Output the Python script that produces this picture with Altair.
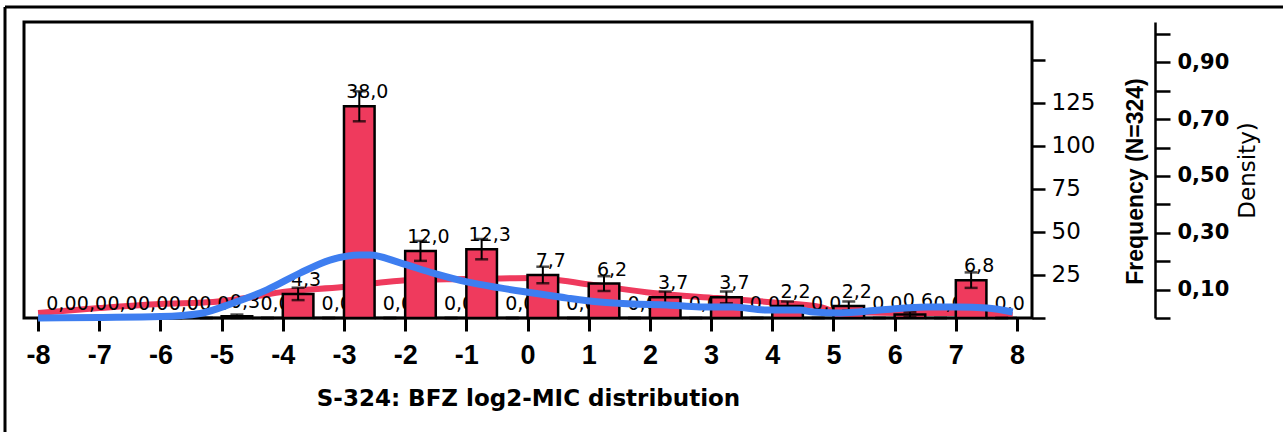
import altair as alt
import pandas as pd

# ---- data ----
bin_start = [-8.0, -7.5, -7.0, -6.5, -6.0, -5.5, -5.0, -4.5, -4.0, -3.5, -3.0, -2.5,
             -2.0, -1.5, -1.0, -0.5, 0.0, 0.5, 1.0, 1.5, 2.0, 2.5, 3.0, 3.5,
             4.0, 4.5, 5.0, 5.5, 6.0, 6.5, 7.0, 7.5]
counts = [0, 0, 0, 0, 0, 0, 1, 0, 14, 0, 123, 0, 39, 0, 40, 0,
          25, 0, 20, 0, 12, 0, 12, 0, 7, 0, 7, 0, 2, 0, 22, 0]
pct_labels = ["0,0", "0,0", "0,0", "0,0", "0,0", "0,0", "0,3", "0,0", "4,3", "0,0",
              "38,0", "0,0", "12,0", "0,0", "12,3", "0,0", "7,7", "0,0", "6,2", "0,0",
              "3,7", "0,0", "3,7", "0,0", "2,2", "0,0", "2,2", "0,0", "0,6", "0,0",
              "6,8", "0,0"]
errors = [0, 0, 0, 0, 0, 0, 1.0, 0, 3.6, 0, 8.7, 0, 5.8, 0, 5.9, 0,
          4.8, 0, 4.3, 0, 3.4, 0, 3.4, 0, 2.6, 0, 2.6, 0, 1.4, 0, 4.5, 0]

red_x = [-8.0, -7.0, -6.0, -5.14, -4.49, -4.0, -3.02, -2.46, -1.92, -0.99, 0.09,
         1.07, 2.05, 3.1, 4.13, 4.78, 5.03, 6.04, 7.02, 7.93]
red_d = [0.018, 0.035, 0.049, 0.056, 0.074, 0.092, 0.109, 0.123, 0.134, 0.137, 0.141,
         0.116, 0.088, 0.070, 0.053, 0.039, 0.024, 0.018, 0.018, 0.011]

blue_x = [-8.0, -7.0, -6.0, -5.35, -4.81, -4.26, -3.72, -3.23, -2.74, -2.57, -2.08,
          -1.54, -0.99, -0.45, 0.09, 0.65, 1.18, 1.72, 2.28, 2.82, 3.36, 3.91, 4.45,
          4.67, 5.11, 5.76, 6.53, 7.02, 7.51, 7.93]
blue_d = [0.0, 0.002, 0.005, 0.016, 0.053, 0.099, 0.158, 0.204, 0.222, 0.222, 0.194,
          0.158, 0.127, 0.106, 0.088, 0.070, 0.056, 0.049, 0.046, 0.039, 0.039, 0.028, 0.028,
          0.021, 0.018, 0.028, 0.039, 0.039, 0.035, 0.021]

x_ticks = list(range(-8, 9))
freq_ticks = [0, 25, 50, 75, 100, 125, 150]
dens_ticks = [0.0, 0.1, 0.2, 0.3, 0.4, 0.5, 0.6, 0.7, 0.8, 0.9, 1.0]

RED = "#EF3A5D"
BLUE = "#3E7EF0"

bars = pd.DataFrame({"start": bin_start, "count": counts, "label": pct_labels, "err": errors})
bars["end"] = bars["start"] + 0.5
bars["mid"] = bars["start"] + 0.25
bars["lo"] = bars["count"] - bars["err"]
bars["hi"] = bars["count"] + bars["err"]

red = pd.DataFrame({"v": red_x, "d": red_d})
blue = pd.DataFrame({"v": blue_x, "d": blue_d})

W, H = 1008, 296

xscale = alt.Scale(domain=[-8.23, 8.245], nice=False, zero=False)
xaxis = alt.Axis(values=x_ticks, labelExpr="'' + datum.value",
                 title="S-324: BFZ log2-MIC distribution", grid=False, domain=False,
                 tickSize=13, tickWidth=3, tickColor="black",
                 labelFont="Liberation Sans", labelFontSize=27, labelFontWeight="bold",
                 labelColor="black", labelPadding=11, labelFlush=False,
                 titleFont="DejaVu Sans", titleFontSize=23, titleFontWeight="bold",
                 titleColor="black", titleY=80, titleBaseline="middle")

fscale = alt.Scale(domain=[0, 172], nice=False, zero=True)
faxis = alt.Axis(orient="right", values=freq_ticks,
                 labelExpr="datum.value > 0 && datum.value < 150 ? datum.label : ''",
                 grid=False, domain=False, tickSize=13, tickWidth=2.5, tickColor="black",
                 labelFont="DejaVu Sans", labelFontSize=23, labelColor="black",
                 labelPadding=6, title="Frequency (N=324)", titleFont="Liberation Sans",
                 titleFontSize=23, titleFontWeight="bold", titleColor="black",
                 titleAngle=270, titleX=103, titleY=159, titleAlign="center",
                 titleBaseline="middle")

dscale = alt.Scale(domain=[0, 1.042], nice=False, zero=True)
daxis = alt.Axis(orient="right", offset=123, values=dens_ticks,
                 labelExpr="indexof([1,3,5,7,9], round(datum.value*10)) >= 0 ? replace(format(datum.value, '.2f'), '.', ',') : ''",
                 grid=False, domain=True, domainColor="black", domainWidth=2.5,
                 tickSize=15, tickWidth=2.5, tickColor="black",
                 labelFont="DejaVu Sans", labelFontSize=21, labelFontWeight="bold",
                 labelColor="black", labelPadding=7, title="Density)",
                 titleFont="DejaVu Sans", titleFontSize=23, titleFontWeight="normal",
                 titleColor="black", titleAngle=270, titleX=92, titleY=148,
                 titleAlign="center", titleBaseline="middle")

red_line = alt.Chart(red).mark_line(color=RED, strokeWidth=6, interpolate="monotone").encode(
    x=alt.X("v:Q", scale=xscale, axis=xaxis),
    y=alt.Y("d:Q", scale=dscale, axis=None),
)

text = alt.Chart(bars).mark_text(font="DejaVu Sans", fontSize=19, color="black",
                                 baseline="bottom", align="center", dx=8, dy=-4).encode(
    x=alt.X("mid:Q", scale=xscale, axis=xaxis),
    y=alt.Y("count:Q", scale=fscale, axis=faxis),
    text="label:N",
)

bar = alt.Chart(bars).mark_rect(fill=RED, stroke="black", strokeWidth=2.5).encode(
    x=alt.X("start:Q", scale=xscale, axis=xaxis),
    x2="end:Q",
    y=alt.Y("count:Q", scale=fscale, axis=faxis),
    y2=alt.datum(0),
)

stem = alt.Chart(bars).mark_rule(color="black", strokeWidth=2).encode(
    x=alt.X("mid:Q", scale=xscale, axis=xaxis),
    y=alt.Y("lo:Q", scale=fscale, axis=faxis),
    y2="hi:Q",
)
cap_lo = alt.Chart(bars).mark_tick(color="black", orient="horizontal", size=13, thickness=2.5).encode(
    x=alt.X("mid:Q", scale=xscale, axis=xaxis),
    y=alt.Y("lo:Q", scale=fscale, axis=faxis),
)
cap_hi = alt.Chart(bars).mark_tick(color="black", orient="horizontal", size=13, thickness=2.5).encode(
    x=alt.X("mid:Q", scale=xscale, axis=xaxis),
    y=alt.Y("hi:Q", scale=fscale, axis=faxis),
)

freq_layer = alt.layer(text, bar, stem, cap_lo, cap_hi)

blue_line = alt.Chart(blue).mark_line(color=BLUE, strokeWidth=7, interpolate="monotone").encode(
    x=alt.X("v:Q", scale=xscale, axis=xaxis),
    y=alt.Y("d:Q", scale=dscale, axis=daxis),
)

frame_df = pd.DataFrame({"k": [0]})
frame_top = alt.Chart(frame_df).mark_rule(color="black", strokeWidth=3).encode(
    x=alt.value(-19), x2=alt.value(1300), y=alt.value(-15))
frame_left = alt.Chart(frame_df).mark_rule(color="black", strokeWidth=3).encode(
    x=alt.value(-19), y=alt.value(-15), y2=alt.value(450))

chart = alt.layer(red_line, freq_layer, blue_line, frame_top, frame_left).resolve_scale(
    y="independent"
).properties(
    width=W, height=H,
    autosize=alt.AutoSizeParams(type="none"),
    padding={"left": 24, "top": 22, "right": 1283 - 24 - W, "bottom": 432 - 22 - H},
    background="white",
).configure_view(stroke="black", strokeWidth=3)

chart.save("out.html", embed_options={"renderer": "svg", "actions": False})
